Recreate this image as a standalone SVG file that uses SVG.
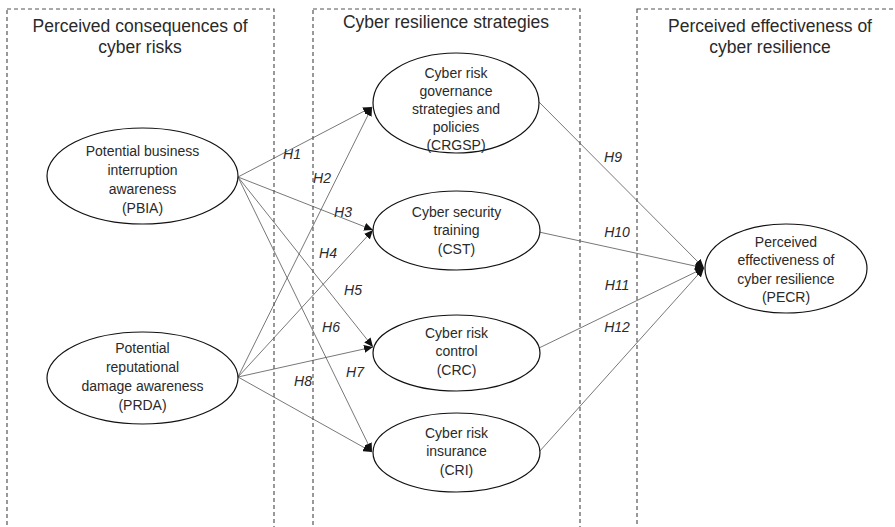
<svg xmlns="http://www.w3.org/2000/svg" width="895" height="527" viewBox="0 0 895 527">
<style>
.box{fill:none;stroke:#555;stroke-width:1.2;stroke-dasharray:4,3}
.title{font-family:"Liberation Sans",Arial,sans-serif;font-size:17.5px;fill:#2a2a2a;text-anchor:middle}
.node ellipse{fill:#fff;stroke:#111;stroke-width:1.2}
.node text{font-family:"Liberation Sans",Arial,sans-serif;font-size:14px;fill:#2a2a2a;text-anchor:middle}
.edge{stroke:#555;stroke-width:0.8;fill:none;marker-end:url(#ah)}
.lbl{font-family:"Liberation Sans",Arial,sans-serif;font-size:14px;font-style:italic;fill:#2a2a2a;text-anchor:middle}
</style>
<defs>
<marker id="ah" markerUnits="userSpaceOnUse" markerWidth="10" markerHeight="8" refX="9" refY="4" orient="auto">
<path d="M0,0 L9,4 L0,8 Z" fill="#111"/>
</marker>
</defs>
<rect width="895" height="527" fill="#fff"/>
<g id="frames">
<rect class="box" x="7" y="9" width="267" height="530"/>
<text class="title" x="140" y="32">Perceived consequences of</text>
<text class="title" x="140" y="53">cyber risks</text>
<rect class="box" x="313" y="9" width="267" height="530"/>
<text class="title" x="446" y="28">Cyber resilience strategies</text>
<rect class="box" x="637" y="9" width="270" height="530"/>
<text class="title" x="770" y="32">Perceived effectiveness of</text>
<text class="title" x="770" y="53">cyber resilience</text>
</g>
<g id="connectors">
<line class="edge" x1="238" y1="177" x2="372" y2="107"/>
<line class="edge" x1="238" y1="177" x2="373" y2="230"/>
<line class="edge" x1="238" y1="177" x2="373" y2="347"/>
<line class="edge" x1="238" y1="177" x2="372" y2="452"/>
<line class="edge" x1="238" y1="377" x2="372" y2="107"/>
<line class="edge" x1="238" y1="377" x2="373" y2="230"/>
<line class="edge" x1="238" y1="377" x2="373" y2="347"/>
<line class="edge" x1="238" y1="377" x2="372" y2="452"/>
<line class="edge" x1="539" y1="102" x2="704" y2="268"/>
<line class="edge" x1="539" y1="232" x2="704" y2="268"/>
<line class="edge" x1="539" y1="348" x2="704" y2="268"/>
<line class="edge" x1="539" y1="452" x2="704" y2="268"/>
<text class="lbl" x="292" y="159">H1</text>
<text class="lbl" x="322" y="183">H2</text>
<text class="lbl" x="343" y="217">H3</text>
<text class="lbl" x="328" y="258">H4</text>
<text class="lbl" x="353" y="295">H5</text>
<text class="lbl" x="331" y="332">H6</text>
<text class="lbl" x="355" y="377">H7</text>
<text class="lbl" x="303" y="386">H8</text>
<text class="lbl" x="613" y="162">H9</text>
<text class="lbl" x="617" y="237">H10</text>
<text class="lbl" x="617" y="290">H11</text>
<text class="lbl" x="617" y="332">H12</text>
</g>
<g id="PBIA" class="node">
<ellipse cx="142.5" cy="176" rx="95.5" ry="48"/>
<text x="142.5" y="156">Potential business</text>
<text x="142.5" y="175">interruption</text>
<text x="142.5" y="194">awareness</text>
<text x="142.5" y="213">(PBIA)</text>
</g>
<g id="PRDA" class="node">
<ellipse cx="142.5" cy="378" rx="95.5" ry="46"/>
<text x="142.5" y="353">Potential</text>
<text x="142.5" y="372">reputational</text>
<text x="142.5" y="391">damage awareness</text>
<text x="142.5" y="410">(PRDA)</text>
</g>
<g id="CRGSP" class="node">
<ellipse cx="456" cy="103" rx="83" ry="50"/>
<text x="456" y="78">Cyber risk</text>
<text x="456" y="96">governance</text>
<text x="456" y="114">strategies and</text>
<text x="456" y="132">policies</text>
<text x="456" y="150">(CRGSP)</text>
</g>
<g id="CST" class="node">
<ellipse cx="456.5" cy="230.5" rx="83.5" ry="39.5"/>
<text x="456.5" y="217">Cyber security</text>
<text x="456.5" y="235">training</text>
<text x="456.5" y="254">(CST)</text>
</g>
<g id="CRC" class="node">
<ellipse cx="456.5" cy="353" rx="83.5" ry="38"/>
<text x="456.5" y="338">Cyber risk</text>
<text x="456.5" y="356">control</text>
<text x="456.5" y="375">(CRC)</text>
</g>
<g id="CRI" class="node">
<ellipse cx="456.5" cy="452.5" rx="83.5" ry="39.5"/>
<text x="456.5" y="438">Cyber risk</text>
<text x="456.5" y="456">insurance</text>
<text x="456.5" y="475">(CRI)</text>
</g>
<g id="PECR" class="node">
<ellipse cx="786" cy="268.5" rx="81" ry="44.5"/>
<text x="786" y="247">Perceived</text>
<text x="786" y="265">effectiveness of</text>
<text x="786" y="284">cyber resilience</text>
<text x="786" y="302">(PECR)</text>
</g>
</svg>
